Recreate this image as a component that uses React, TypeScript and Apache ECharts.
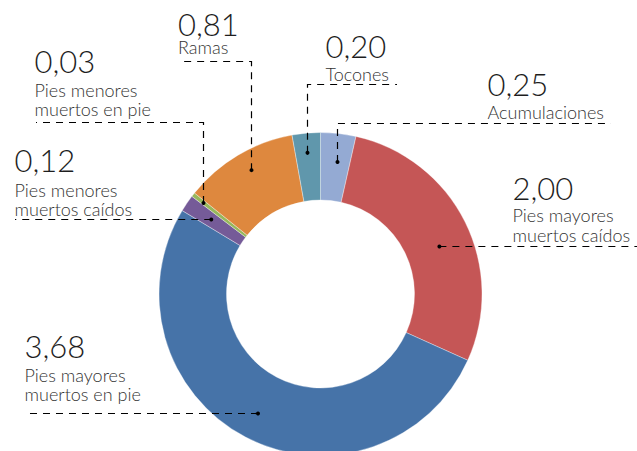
import React, { useEffect, useRef } from 'react';
import * as echarts from 'echarts';

const W = 637;
const H = 451;
const CX = 320.5;
const CY = 294;
const R_IN = 94;
const R_OUT = 161.5;

const categories = [
  'Acumulaciones',
  'Pies mayores muertos caídos',
  'Pies mayores muertos en pie',
  'Pies menores muertos caídos',
  'Pies menores muertos en pie',
  'Ramas',
  'Tocones',
];
const values = [0.25, 2.0, 3.68, 0.12, 0.03, 0.81, 0.2];
const labelTexts = [
  ['Acumulaciones'],
  ['Pies mayores', 'muertos caídos'],
  ['Pies mayores', 'muertos en pie'],
  ['Pies menores', 'muertos caídos'],
  ['Pies menores', 'muertos en pie'],
  ['Ramas'],
  ['Tocones'],
];
const colors = ['#94aad3', '#c55656', '#4673a8', '#755b98', '#97b85c', '#de883e', '#6097ac'];

type Lay = {
  kind: 'v' | 'h';
  textX: number;
  numBase: number;
  nameBase: number;
  lineY?: number;
  lineEnd: number;
  frac: number;
  r: number;
};

const layouts: Lay[] = [
  { kind: 'v', textX: 487.5, numBase: 95.8, nameBase: 119.3, lineY: 123, lineEnd: 611, frac: 0.57, r: 133 },
  { kind: 'h', textX: 512.5, numBase: 200.3, nameBase: 222.3, lineEnd: 637, frac: 0.547, r: 128 },
  { kind: 'h', textX: 24.5, numBase: 358.3, nameBase: 381.5, lineEnd: 25, frac: 0.5, r: 134.6 },
  { kind: 'h', textX: 14.5, numBase: 171.7, nameBase: 196.5, lineEnd: 15, frac: 0.5, r: 132 },
  { kind: 'v', textX: 34.5, numBase: 73.3, nameBase: 96.7, lineY: 122, lineEnd: 36, frac: 0.5, r: 148 },
  { kind: 'v', textX: 178, numBase: 35.5, nameBase: 54.3, lineY: 61, lineEnd: 179, frac: 0.535, r: 142 },
  { kind: 'v', textX: 325.5, numBase: 58.3, nameBase: 81, lineY: 84, lineEnd: 397, frac: 0.5, r: 141.7 },
];

const FONT = 'Lato, "Noto Sans", sans-serif';
const NUM_SIZE = 31;
const NAME_SIZE = 18;
const NAME_LH = 19.5;
const CENTRAL = 0.387;

const snap = (v: number) => Math.round(v - 0.5) + 0.5;

function buildGraphics() {
  const total = values.reduce((a, b) => a + b, 0);
  const els: any[] = [];
  let cum = 0;
  values.forEach((v, i) => {
    const L = layouts[i];
    const theta = ((cum + L.frac * v) / total) * Math.PI * 2;
    cum += v;
    const dx = CX + L.r * Math.sin(theta);
    const dy = CY - L.r * Math.cos(theta);
    const sx = snap(dx);
    const sy = snap(dy);
    const pts =
      L.kind === 'v'
        ? [[sx, dy], [sx, snap(L.lineY as number)], [L.lineEnd, snap(L.lineY as number)]]
        : [[dx, sy], [L.lineEnd, sy]];
    els.push({
      type: 'polyline',
      silent: true,
      z: 10,
      shape: { points: pts },
      style: { stroke: '#000', lineWidth: 1.2, lineDash: [7, 6], fill: null },
    });
    els.push({
      type: 'circle',
      silent: true,
      z: 11,
      shape: { cx: L.kind === 'v' ? sx : dx, cy: L.kind === 'v' ? dy : sy, r: 2 },
      style: { fill: '#000' },
    });
    els.push({
      type: 'text',
      silent: true,
      z: 12,
      x: L.textX,
      y: L.numBase - CENTRAL * NUM_SIZE,
      style: {
        text: v.toFixed(2).replace('.', ','),
        fontFamily: FONT,
        fontWeight: 300,
        fontSize: NUM_SIZE,
        fill: '#1e1e1e',
        align: 'left',
        verticalAlign: 'middle',
      },
    });
    labelTexts[i].forEach((t, j) => {
      els.push({
        type: 'text',
        silent: true,
        z: 12,
        x: L.textX,
        y: L.nameBase + j * NAME_LH - CENTRAL * NAME_SIZE,
        style: {
          text: t,
          fontFamily: FONT,
          fontWeight: 300,
          fontSize: NAME_SIZE,
          fill: '#333',
          align: 'left',
          verticalAlign: 'middle',
        },
      });
    });
  });
  return els;
}

export default function App() {
  const ref = useRef<HTMLDivElement>(null);
  useEffect(() => {
    if (!ref.current) return;
    const chart = echarts.init(ref.current, undefined, { renderer: 'svg', width: W, height: H });
    chart.setOption({
      animation: false,
      backgroundColor: '#ffffff',
      series: [
        {
          type: 'pie',
          center: [CX, CY],
          radius: [R_IN, R_OUT],
          startAngle: 90,
          clockwise: true,
          silent: true,
          label: { show: false },
          labelLine: { show: false },
          emphasis: { disabled: true },
          itemStyle: { borderColor: 'rgba(255,255,255,0.7)', borderWidth: 0.5 },
          data: categories.map((c, i) => ({ name: c, value: values[i], itemStyle: { color: colors[i] } })),
        },
      ],
      graphic: { elements: buildGraphics() },
    });
    return () => chart.dispose();
  }, []);
  return (
    <div
      ref={ref}
      style={{ position: 'fixed', left: 0, top: 0, width: W, height: H, background: '#fff' }}
    />
  );
}
